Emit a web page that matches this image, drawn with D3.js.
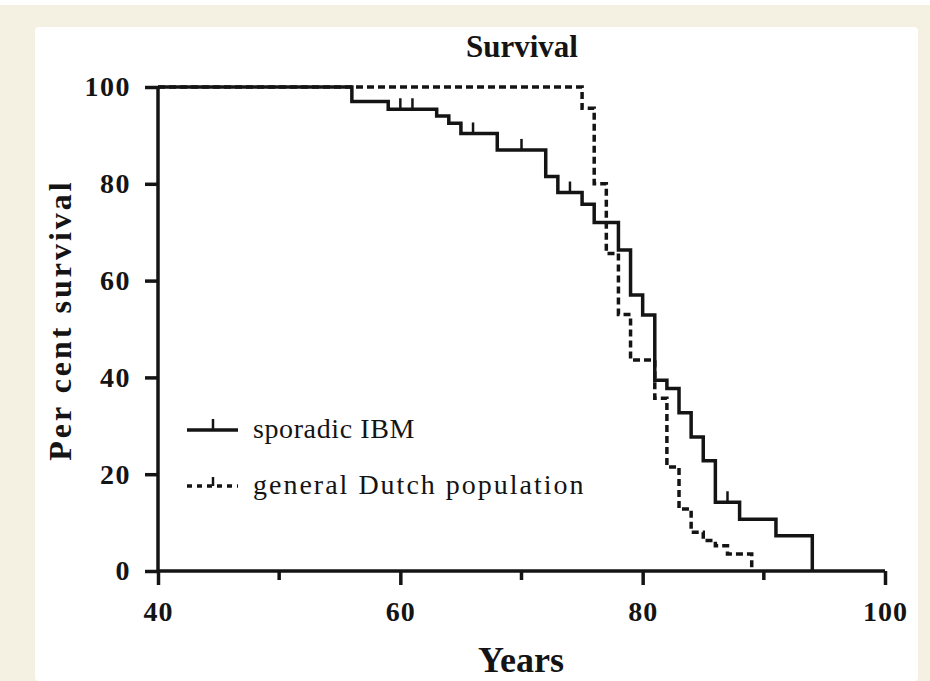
<!DOCTYPE html>
<html>
<head>
<meta charset="utf-8">
<title>Survival</title>
<script src="https://cdnjs.cloudflare.com/ajax/libs/d3/7.8.5/d3.min.js"></script>
<style>
  body { margin: 0; background: #f5f1e2; }
  svg text { font-family: 'Liberation Serif', 'Times New Roman', Times, serif; fill: #141414; }
</style>
</head>
<body>
<script>
// sporadic IBM (Kaplan-Meier, step after)
let ibmYears  = [40, 56, 59, 63, 64, 65, 68, 72, 73, 75, 76, 78, 79, 80, 81, 82, 83, 84, 85, 86, 88, 91, 94];
let ibmValues = [100, 97, 95.4, 94, 92.5, 90.4, 87, 81.5, 78.2, 75.8, 72, 66.3, 57, 52.9, 39.4, 37.7, 32.7, 27.7, 22.8, 14.2, 10.7, 7.3, 0];
let ibmCensored = [60, 61, 66, 70, 74, 87];

// general Dutch population
let dutchYears  = [40, 75, 76, 77, 78, 79, 81, 82, 83, 84, 85, 86, 87, 89];
let dutchValues = [100, 95.6, 80, 65.6, 53, 43.6, 35.7, 21.5, 12.8, 8, 6.3, 5.2, 3.5, 0];

let xTicks = [40, 60, 80, 100];
let xMinorTicks = [50, 70, 90];
let yTicks = [0, 20, 40, 60, 80, 100];

let W = 930, H = 681;
let svg = d3.select('body').append('svg')
  .attr('width', W).attr('height', H);

// white panel
svg.append('rect').attr('x', 0).attr('y', 0).attr('width', W).attr('height', 5).attr('fill', '#fff');
svg.append('rect').attr('x', 35).attr('y', 27).attr('width', 883).attr('height', H - 27)
  .attr('rx', 4).attr('fill', '#fff');

let x = d3.scaleLinear().domain([40, 100]).range([158, 885]);
let y = d3.scaleLinear().domain([0, 100]).range([571, 87]);

let ink = '#141414';

// title
svg.append('text').attr('x', 522).attr('y', 57)
  .attr('text-anchor', 'middle').attr('font-weight', 'bold')
  .attr('font-size', 31).text('Survival');

// y axis
let yAxis = svg.append('g').attr('transform', 'translate(' + x(40) + ',0)')
  .call(d3.axisLeft(y).tickValues(yTicks).tickSize(13).tickPadding(14));
yAxis.select('.domain').attr('stroke', ink).attr('stroke-width', 3.5)
  .attr('d', 'M0,' + y(100) + 'V' + y(0));
yAxis.selectAll('.tick line').attr('stroke', ink).attr('stroke-width', 3.5);
yAxis.selectAll('.tick text')
  .attr('font-weight', 'bold').attr('font-size', 28).attr('letter-spacing', 1.5)
  .attr('fill', ink);

// x axis
let xAxis = svg.append('g').attr('transform', 'translate(0,' + y(0) + ')')
  .call(d3.axisBottom(x).tickValues(xTicks).tickSize(14).tickPadding(16));
xAxis.select('.domain').attr('stroke', ink).attr('stroke-width', 3.5)
  .attr('d', 'M' + x(40) + ',0H' + x(100));
xAxis.selectAll('.tick line').attr('stroke', ink).attr('stroke-width', 3.5);
xAxis.selectAll('.tick text')
  .attr('font-weight', 'bold').attr('font-size', 28).attr('letter-spacing', 1)
  .attr('fill', ink);
xAxis.selectAll('.minor').data(xMinorTicks).enter().append('line')
  .attr('class', 'minor')
  .attr('x1', d => x(d)).attr('x2', d => x(d))
  .attr('y1', 0).attr('y2', 9)
  .attr('stroke', ink).attr('stroke-width', 3.5);

// axis titles
svg.append('text').attr('x', 521).attr('y', 672)
  .attr('text-anchor', 'middle').attr('font-weight', 'bold')
  .attr('font-size', 36).text('Years');
svg.append('text')
  .attr('transform', 'translate(71,320) rotate(-90)')
  .attr('text-anchor', 'middle').attr('font-weight', 'bold')
  .attr('font-size', 32).attr('letter-spacing', 3).text('Per cent survival');

// curves
let line = d3.line().curve(d3.curveStepAfter)
  .x(d => x(d[0])).y(d => y(d[1]));

let ibmData = ibmYears.map((d, i) => [d, ibmValues[i]]);
let dutchData = dutchYears.map((d, i) => [d, dutchValues[i]]);

svg.append('path').datum(dutchData)
  .attr('d', line).attr('fill', 'none')
  .attr('stroke', ink).attr('stroke-width', 3.5)
  .attr('stroke-dasharray', '7,4');

svg.append('path').datum(ibmData)
  .attr('d', line).attr('fill', 'none')
  .attr('stroke', ink).attr('stroke-width', 3.5);

// censor marks: value of the step at that year
function levelAt(years, values, t) {
  let v = values[0];
  for (let i = 0; i < years.length; i++) if (years[i] <= t) v = values[i];
  return v;
}
svg.selectAll('.censor').data(ibmCensored).enter().append('line')
  .attr('class', 'censor')
  .attr('x1', d => x(d)).attr('x2', d => x(d))
  .attr('y1', d => y(levelAt(ibmYears, ibmValues, d)))
  .attr('y2', d => y(levelAt(ibmYears, ibmValues, d)) - 11)
  .attr('stroke', ink).attr('stroke-width', 2.5);

// legend
let legend = svg.append('g');
legend.append('line').attr('x1', 187).attr('x2', 238).attr('y1', 430).attr('y2', 430)
  .attr('stroke', ink).attr('stroke-width', 3.5);
legend.append('line').attr('x1', 213).attr('x2', 213).attr('y1', 430).attr('y2', 419)
  .attr('stroke', ink).attr('stroke-width', 2.5);
legend.append('text').attr('x', 253).attr('y', 438)
  .attr('font-size', 28).attr('letter-spacing', 0.6).text('sporadic IBM');

legend.append('line').attr('x1', 187).attr('x2', 238).attr('y1', 486).attr('y2', 486)
  .attr('stroke', ink).attr('stroke-width', 3.5).attr('stroke-dasharray', '5,5');
legend.append('line').attr('x1', 213).attr('x2', 213).attr('y1', 486).attr('y2', 477)
  .attr('stroke', ink).attr('stroke-width', 2.5);
legend.append('text').attr('x', 253).attr('y', 494)
  .attr('font-size', 28).attr('letter-spacing', 2).text('general Dutch population');
</script>
</body>
</html>
